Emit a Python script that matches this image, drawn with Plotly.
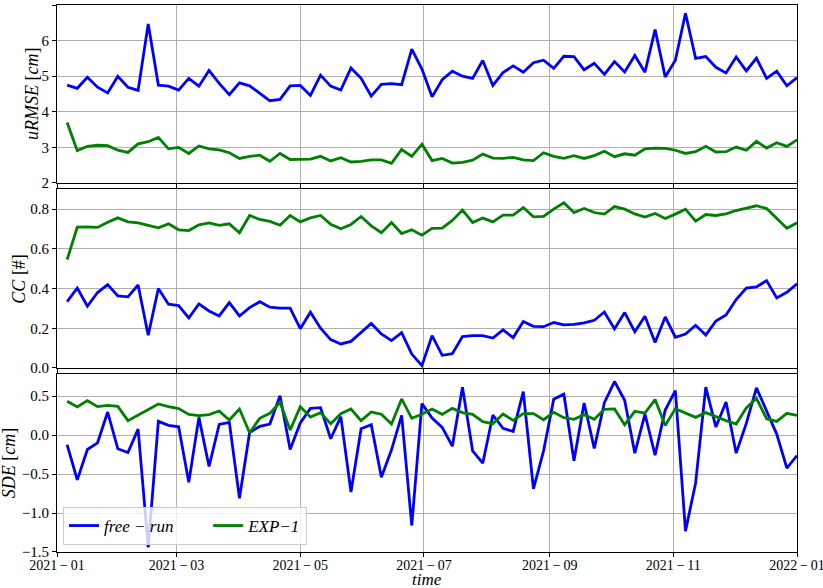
import pandas as pd
import plotly.graph_objects as go
from plotly.subplots import make_subplots

dates = pd.date_range("2021-01-06", periods=73, freq="5D")

urmse_free = [4.75, 4.66, 4.97, 4.69, 4.53, 5.00, 4.69, 4.60, 6.47, 4.75,
              4.72, 4.61, 4.94, 4.72, 5.16, 4.80, 4.48, 4.81, 4.73, 4.53,
              4.31, 4.35, 4.73, 4.74, 4.46, 5.03, 4.72, 4.61, 5.23, 4.94,
              4.44, 4.77, 4.79, 4.76, 5.76, 5.20, 4.42, 4.90, 5.14, 5.00,
              4.94, 5.44, 4.74, 5.10, 5.29, 5.11, 5.38, 5.45, 5.22, 5.56,
              5.55, 5.18, 5.36, 5.05, 5.41, 5.12, 5.58, 5.11, 6.31, 4.98,
              5.45, 6.77, 5.50, 5.55, 5.25, 5.09, 5.54, 5.15, 5.51, 4.94,
              5.14, 4.73, 4.96]
urmse_exp = [3.70, 2.91, 3.03, 3.06, 3.05, 2.92, 2.86, 3.10, 3.16, 3.28,
             2.96, 3.00, 2.83, 3.04, 2.96, 2.93, 2.85, 2.69, 2.75, 2.78,
             2.61, 2.83, 2.66, 2.67, 2.67, 2.75, 2.62, 2.71, 2.59, 2.61,
             2.65, 2.65, 2.55, 2.94, 2.75, 3.09, 2.63, 2.69, 2.56, 2.58,
             2.64, 2.81, 2.70, 2.69, 2.72, 2.65, 2.63, 2.85, 2.75, 2.69,
             2.77, 2.69, 2.77, 2.89, 2.74, 2.82, 2.78, 2.96, 2.98, 2.97,
             2.92, 2.83, 2.88, 3.03, 2.87, 2.88, 3.01, 2.92, 3.17, 2.98,
             3.13, 3.03, 3.21]
cc_free = [0.334, 0.403, 0.311, 0.380, 0.420, 0.363, 0.358, 0.418, 0.165, 0.400,
           0.321, 0.314, 0.252, 0.323, 0.287, 0.262, 0.329, 0.262, 0.304, 0.334,
           0.306, 0.301, 0.301, 0.198, 0.281, 0.200, 0.143, 0.121, 0.134, 0.178,
           0.224, 0.171, 0.138, 0.178, 0.070, 0.012, 0.163, 0.064, 0.072, 0.158,
           0.163, 0.163, 0.151, 0.192, 0.153, 0.234, 0.210, 0.208, 0.229, 0.217,
           0.220, 0.227, 0.240, 0.282, 0.197, 0.279, 0.183, 0.261, 0.128, 0.257,
           0.155, 0.171, 0.215, 0.166, 0.237, 0.267, 0.345, 0.402, 0.408, 0.440,
           0.353, 0.381, 0.424]
cc_exp = [0.546, 0.709, 0.711, 0.708, 0.734, 0.756, 0.736, 0.731, 0.718, 0.706,
          0.726, 0.696, 0.692, 0.721, 0.731, 0.718, 0.726, 0.681, 0.768, 0.748,
          0.738, 0.719, 0.768, 0.736, 0.756, 0.768, 0.724, 0.701, 0.723, 0.763,
          0.716, 0.681, 0.733, 0.677, 0.696, 0.669, 0.703, 0.704, 0.743, 0.795,
          0.733, 0.755, 0.736, 0.770, 0.770, 0.808, 0.761, 0.763, 0.800, 0.832,
          0.783, 0.803, 0.783, 0.775, 0.813, 0.800, 0.776, 0.760, 0.778, 0.753,
          0.775, 0.800, 0.739, 0.773, 0.768, 0.776, 0.793, 0.805, 0.817, 0.803,
          0.753, 0.704, 0.731]
sde_free = [-0.124, -0.575, -0.185, -0.099, 0.296, -0.176, -0.223, 0.077, -1.44, 0.176,
            0.124, 0.107, -0.605, 0.227, -0.403, 0.137, 0.163, -0.811, 0.034, 0.112,
            0.142, 0.506, -0.185, 0.155, 0.343, 0.352, -0.047, 0.236, -0.730, 0.082,
            0.133, -0.541, -0.189, 0.253, -1.160, 0.403, 0.219, 0.099, -0.142, 0.614,
            -0.202, -0.361, 0.258, 0.086, 0.047, 0.558, -0.691, -0.202, 0.459, 0.524,
            -0.330, 0.412, -0.172, 0.416, 0.687, 0.446, -0.232, 0.270, -0.258, 0.322,
            0.571, -1.232, -0.614, 0.614, 0.103, 0.425, -0.232, 0.150, 0.605, 0.309,
            0.013, -0.425, -0.262]
sde_exp = [0.433, 0.361, 0.442, 0.365, 0.382, 0.369, 0.185, 0.258, 0.330, 0.399,
           0.365, 0.339, 0.266, 0.249, 0.262, 0.309, 0.193, 0.335, 0.030, 0.215,
           0.279, 0.421, 0.064, 0.365, 0.232, 0.288, 0.146, 0.275, 0.335, 0.185,
           0.296, 0.266, 0.142, 0.464, 0.215, 0.266, 0.335, 0.266, 0.343, 0.288,
           0.266, 0.172, 0.146, 0.270, 0.189, 0.275, 0.275, 0.197, 0.292, 0.223,
           0.202, 0.262, 0.202, 0.330, 0.335, 0.133, 0.305, 0.283, 0.455, 0.124,
           0.339, 0.288, 0.227, 0.288, 0.232, 0.185, 0.142, 0.348, 0.472, 0.210,
           0.176, 0.279, 0.253]

x_tickvals = ["2021-01-01", "2021-03-01", "2021-05-01", "2021-07-01",
              "2021-09-01", "2021-11-01", "2022-01-01"]
x_ticktext = ["2021\u2009−\u200901", "2021\u2009−\u200903", "2021\u2009−\u200905",
              "2021\u2009−\u200907", "2021\u2009−\u200909", "2021\u2009−\u200911",
              "2022\u2009−\u200901"]

BLUE = "#0000ff"
GREEN = "#008000"
FONT = "Liberation Serif"

fig = make_subplots(rows=3, cols=1, shared_xaxes=False)

panels = [
    (urmse_free, urmse_exp),
    (cc_free, cc_exp),
    (sde_free, sde_exp),
]
for r, (fr, ex) in enumerate(panels, start=1):
    fig.add_trace(go.Scatter(x=dates, y=fr, mode="lines",
                             name="<i>free − run</i>" + "\u00a0" * 7,
                             line=dict(color=BLUE, width=2.8), showlegend=(r == 3)),
                  row=r, col=1)
    fig.add_trace(go.Scatter(x=dates, y=ex, mode="lines", name="<i>EXP−1</i>",
                  line=dict(color=GREEN, width=2.8), showlegend=(r == 3)),
                  row=r, col=1)

axis_common = dict(showline=True, linecolor="black", linewidth=1, mirror=True,
                   ticks="outside", ticklen=4, tickcolor="black", automargin=False,
                   showgrid=True, gridcolor="#b0b0b0", gridwidth=1, zeroline=False)

domains = [[0.6746, 1.0], [0.3364, 0.6631], [0.0, 0.3249]]
for i in range(3):
    fig.update_xaxes(domain=[0, 1], range=["2021-01-01", "2022-01-01"],
                     tickvals=x_tickvals, ticktext=x_ticktext, tickfont=dict(size=14),
                     ticklabeloverflow="allow",
                     showticklabels=(i == 2), row=i + 1, col=1, **axis_common)
    fig.update_yaxes(domain=domains[i], row=i + 1, col=1, **axis_common)
fig.update_xaxes(ticklabelstandoff=-4, row=3, col=1)

fig.update_yaxes(range=[2, 7], tickvals=[2, 3, 4, 5, 6, 7], row=1, col=1)
fig.update_yaxes(range=[0, 0.9], tickvals=[0, 0.2, 0.4, 0.6, 0.8], tickformat=".1f",
                 row=2, col=1)
fig.update_yaxes(range=[-1.5, 0.78], tickvals=[-1.5, -1.0, -0.5, 0.0, 0.5], tickformat=".1f",
                 row=3, col=1)

L, R = 57, 797
PW = R - L
def px(xp):
    return (xp - L) / PW

ytitles = [
    ("<i>uRMSE</i> [<i>cm</i>]", 32, sum(domains[0]) / 2),
    ("<i>CC</i> [#]", 19, sum(domains[1]) / 2),
    ("<i>SDE</i> [<i>cm</i>]", 9, sum(domains[2]) / 2),
]
for txt, xp, yc in ytitles:
    fig.add_annotation(text=txt, x=px(xp), y=yc, xref="paper", yref="paper",
                       xanchor="center", yanchor="middle", textangle=-90,
                       showarrow=False, font=dict(family=FONT, size=18))

fig.add_annotation(text="<i>time</i>", x=0.5, y=-(579 - 552) / 547, xref="paper",
                   yref="paper", xanchor="center", yanchor="middle", showarrow=False,
                   font=dict(family=FONT, size=17))

fig.update_layout(
    width=823, height=588,
    margin=dict(l=L, r=823 - R, t=5, b=36),
    plot_bgcolor="white", paper_bgcolor="white",
    font=dict(family=FONT, size=15, color="black"),
    legend=dict(x=px(63), y=(552 - 545) / 547, xanchor="left", yanchor="bottom",
                orientation="h", bgcolor="rgba(255,255,255,0.8)",
                bordercolor="#cccccc", borderwidth=1, itemwidth=30,
                font=dict(family=FONT, size=17)),
)

fig.write_html("out.html", config={"displayModeBar": False},
               post_script="document.body.style.margin='0';")
